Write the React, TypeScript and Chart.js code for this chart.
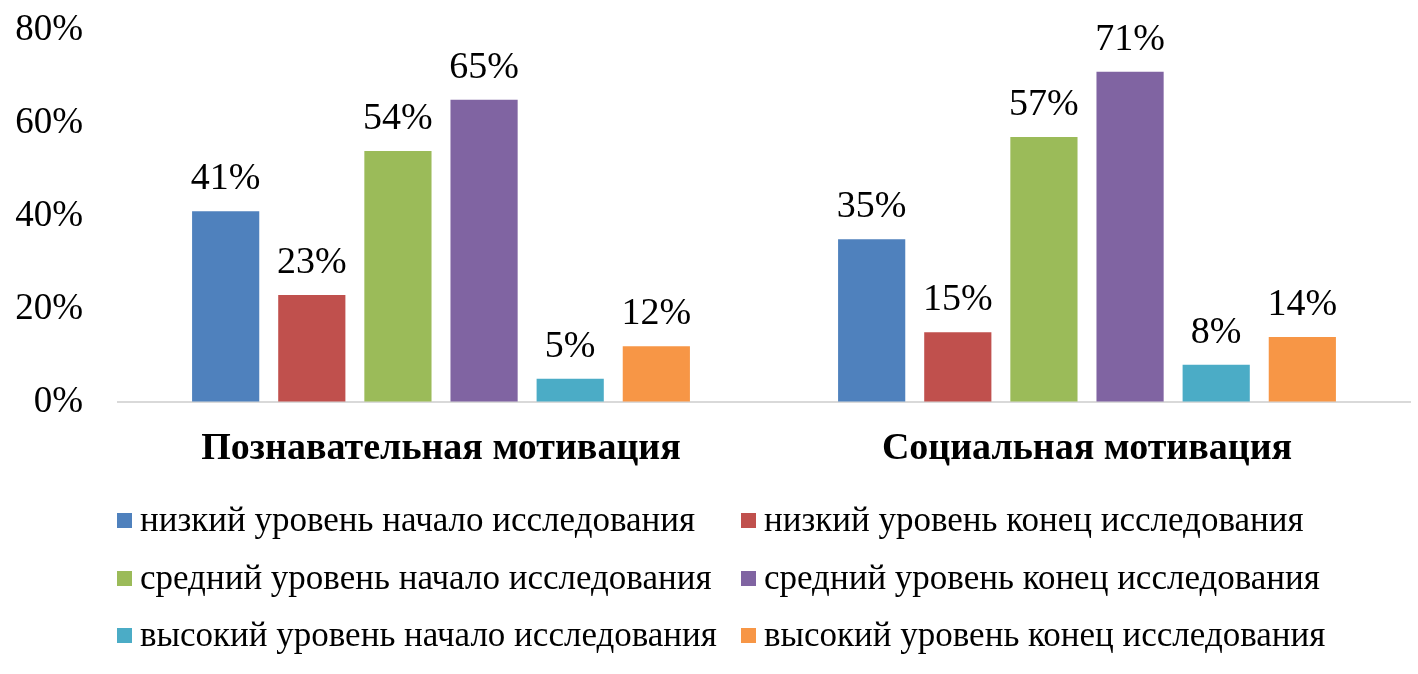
import React, { useEffect, useRef } from "react";
import { Chart, registerables } from "chart.js";

Chart.register(...registerables);

const categories = ["Познавательная мотивация", "Социальная мотивация"];
const seriesNames = [
  "низкий уровень начало исследования",
  "низкий уровень конец исследования",
  "средний уровень начало исследования",
  "средний уровень конец исследования",
  "высокий уровень начало исследования",
  "высокий уровень конец исследования",
];
const seriesValues = [
  [41, 35],
  [23, 15],
  [54, 57],
  [65, 71],
  [5, 8],
  [12, 14],
];
const seriesColors = ["#4F81BD", "#C0504D", "#9BBB59", "#8064A2", "#4BACC6", "#F79646"];
const yTicks = [0, 20, 40, 60, 80];

const FONT = "'Liberation Serif', 'Times New Roman', serif";

const dataLabelPlugin = {
  id: "dataLabels",
  afterDatasetsDraw(chart: any) {
    const ctx = chart.ctx;
    ctx.save();
    ctx.font = `38px ${FONT}`;
    ctx.fillStyle = "#000";
    ctx.textAlign = "center";
    ctx.textBaseline = "alphabetic";
    chart.data.datasets.forEach((ds: any, i: number) => {
      const meta = chart.getDatasetMeta(i);
      meta.data.forEach((el: any, j: number) => {
        ctx.fillText(`${ds.data[j]}%`, el.x, el.y - 22);
      });
    });
    ctx.restore();
  },
};

const legendPlugin = {
  id: "gridLegend",
  afterDraw(chart: any) {
    const ctx = chart.ctx;
    ctx.save();
    ctx.font = `35px ${FONT}`;
    ctx.textAlign = "left";
    ctx.textBaseline = "middle";
    const colX = [117, 741];
    const rowY = [521, 579, 636];
    chart.data.datasets.forEach((ds: any, i: number) => {
      const x = colX[i % 2];
      const y = rowY[Math.floor(i / 2)];
      ctx.fillStyle = ds.backgroundColor;
      ctx.fillRect(x, y - 8, 15, 15);
      ctx.fillStyle = "#000";
      ctx.fillText(ds.label, x + 23, y + 1);
    });
    ctx.restore();
  },
};

export default function App() {
  const ref = useRef<HTMLCanvasElement | null>(null);
  useEffect(() => {
    if (!ref.current) return;
    const chart = new Chart(ref.current, {
      type: "bar",
      data: {
        labels: categories,
        datasets: seriesNames.map((name, i) => ({
          label: name,
          data: seriesValues[i],
          backgroundColor: seriesColors[i],
          categoryPercentage: 0.8,
          barPercentage: 0.78,
        })),
      },
      options: {
        animation: false,
        responsive: true,
        maintainAspectRatio: false,
        layout: { padding: { top: 30, right: 8, bottom: 192, left: 0 } },
        plugins: {
          legend: { display: false },
          tooltip: { enabled: false },
        },
        scales: {
          x: {
            grid: { display: false },
            border: { display: true, color: "#D9D9D9", width: 2 },
            ticks: {
              color: "#000",
              padding: 16,
              font: { family: FONT, size: 38, weight: "bold" },
            },
            afterFit(scale: any) {
              scale.height = 80;
            },
          },
          y: {
            min: 0,
            max: 80,
            grid: {
              display: true,
              color: "rgba(0,0,0,0)",
              drawOnChartArea: false,
              drawTicks: true,
              tickLength: 35,
            },
            border: { display: false },
            afterBuildTicks(scale: any) {
              scale.ticks = yTicks.map((v) => ({ value: v }));
            },
            ticks: {
              color: "#000",
              padding: 0,
              font: { family: FONT, size: 37 },
              callback: (v: any) => `${v}%`,
            },
            afterFit(scale: any) {
              scale.width = 118;
            },
          },
        },
      },
      plugins: [dataLabelPlugin, legendPlugin],
    });
    return () => chart.destroy();
  }, []);
  return (
    <div style={{ position: "fixed", left: 0, top: 0, width: 1418, height: 674, background: "#fff" }}>
      <canvas ref={ref} />
    </div>
  );
}
